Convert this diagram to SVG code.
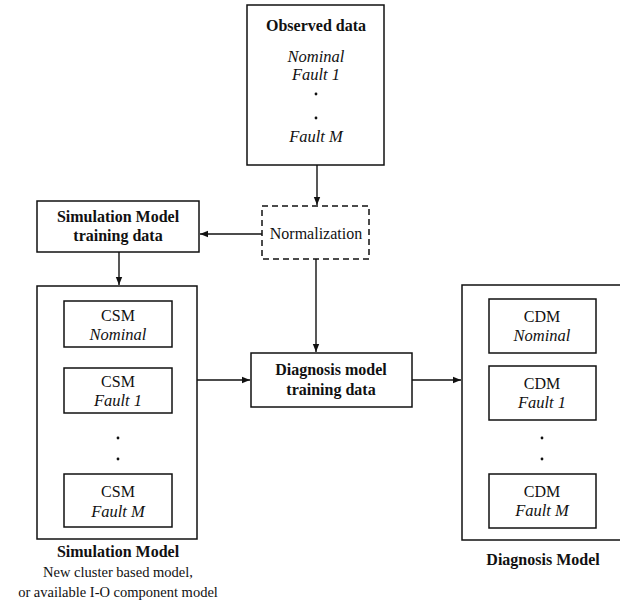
<svg xmlns="http://www.w3.org/2000/svg" width="620" height="614" viewBox="0 0 620 614">
<style>
.box{fill:#fff;stroke:#111;stroke-width:1.5}
.dash{fill:#fff;stroke:#111;stroke-width:1.5;stroke-dasharray:6,4}
.line{fill:none;stroke:#111;stroke-width:1.4}
text{font-family:"Liberation Serif","Times New Roman",serif;fill:#111;text-anchor:middle}
.b{font-weight:bold;font-size:16px}
.r{font-size:16px}
.s{font-size:14.5px}
.i{font-style:italic;font-size:16.5px}
.dot{fill:#111}
</style>
<defs>
<marker id="ah" viewBox="0 0 10 10" refX="10" refY="5" markerWidth="8" markerHeight="8" markerUnits="userSpaceOnUse" orient="auto">
<path d="M0,1 L10,5 L0,9 z" fill="#111"/>
</marker>
</defs>
<g id="connectors">
<line class="line" x1="317" y1="165" x2="317" y2="205" marker-end="url(#ah)"/>
<line class="line" x1="262" y1="234" x2="200" y2="234" marker-end="url(#ah)"/>
<line class="line" x1="119" y1="252" x2="119" y2="285" marker-end="url(#ah)"/>
<line class="line" x1="316" y1="259" x2="316" y2="352" marker-end="url(#ah)"/>
<line class="line" x1="197" y1="380" x2="250" y2="380" marker-end="url(#ah)"/>
<line class="line" x1="412" y1="380" x2="461" y2="380" marker-end="url(#ah)"/>
</g>
<g id="observed">
<rect class="box" x="247" y="5" width="137" height="160"/>
<text class="b" x="316" y="31">Observed data</text>
<text class="i" x="316" y="62">Nominal</text>
<text class="i" x="316" y="80">Fault 1</text>
<circle class="dot" cx="316" cy="94" r="1.4"/>
<circle class="dot" cx="316" cy="118" r="1.4"/>
<text class="i" x="316" y="142">Fault M</text>
</g>
<g id="normalization">
<rect class="dash" x="262" y="206" width="107" height="53"/>
<text class="r" x="316" y="239">Normalization</text>
</g>
<g id="sim-training">
<rect class="box" x="37" y="201" width="162" height="51"/>
<text class="b" x="118" y="222">Simulation Model</text>
<text class="b" x="118" y="241">training data</text>
</g>
<g id="sim-model">
<rect class="box" x="37" y="286" width="160" height="253"/>
<g id="csm-nominal">
<rect class="box" x="64" y="301" width="108" height="46"/>
<text class="r" x="118" y="321">CSM</text>
<text class="i" x="118" y="340">Nominal</text>
</g>
<g id="csm-fault1">
<rect class="box" x="64" y="368" width="108" height="45"/>
<text class="r" x="118" y="387">CSM</text>
<text class="i" x="118" y="406">Fault 1</text>
</g>
<circle class="dot" cx="118" cy="438" r="1.4"/>
<circle class="dot" cx="118" cy="459" r="1.4"/>
<g id="csm-faultM">
<rect class="box" x="64" y="474" width="108" height="53"/>
<text class="r" x="118" y="497">CSM</text>
<text class="i" x="118" y="517">Fault M</text>
</g>
<text class="b" x="118" y="557">Simulation Model</text>
<text class="s" x="118" y="577">New cluster based model,</text>
<text class="s" x="118" y="597">or available I-O component model</text>
</g>
<g id="diag-training">
<rect class="box" x="251" y="353" width="161" height="54"/>
<text class="b" x="331" y="375">Diagnosis model</text>
<text class="b" x="331" y="395">training data</text>
</g>
<g id="diag-model">
<rect class="box" x="462" y="285" width="162" height="255"/>
<g id="cdm-nominal">
<rect class="box" x="489" y="299" width="107" height="54"/>
<text class="r" x="542" y="322">CDM</text>
<text class="i" x="542" y="341">Nominal</text>
</g>
<g id="cdm-fault1">
<rect class="box" x="489" y="366" width="107" height="54"/>
<text class="r" x="542" y="389">CDM</text>
<text class="i" x="542" y="408">Fault 1</text>
</g>
<circle class="dot" cx="542" cy="438" r="1.4"/>
<circle class="dot" cx="542" cy="459" r="1.4"/>
<g id="cdm-faultM">
<rect class="box" x="489" y="474" width="107" height="54"/>
<text class="r" x="542" y="497">CDM</text>
<text class="i" x="542" y="516">Fault M</text>
</g>
<text class="b" x="543" y="565">Diagnosis Model</text>
</g>
</svg>
